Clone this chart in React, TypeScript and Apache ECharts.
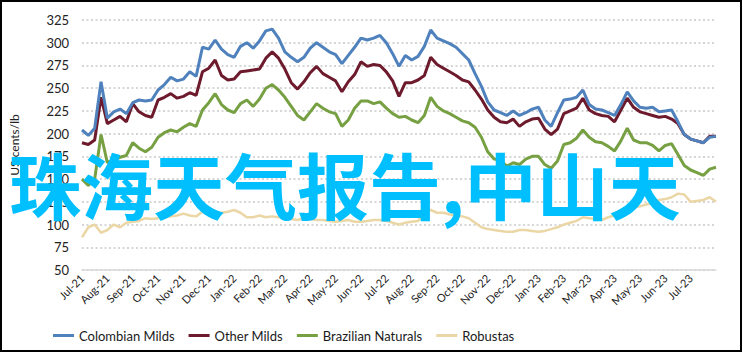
import React, { useEffect, useRef } from "react";
import * as echarts from "echarts";

const monthLabels = [
  "Jul-21", "Aug-21", "Sep-21", "Oct-21", "Nov-21", "Dec-21", "Jan-22", "Feb-22", "Mar-22",
  "Apr-22", "May-22", "Jun-22", "Jul-22", "Aug-22", "Sep-22", "Oct-22", "Nov-22", "Dec-22",
  "Jan-23", "Feb-23", "Mar-23", "Apr-23", "May-23", "Jun-23", "Jul-23", "Aug-23",
];

const yTicks = [50, 75, 100, 125, 150, 175, 200, 225, 250, 275, 300, 325];

const colombianMilds = [
  204, 198, 206, 257, 217, 224, 227, 222, 234, 237, 236, 237, 248, 254, 262, 258, 260, 268, 263, 295,
  293, 303, 293, 287, 284, 296, 300, 294, 302, 313, 315, 305, 290, 284, 279, 284, 294, 300, 295, 290,
  287, 277, 286, 295, 305, 303, 305, 308, 300, 288, 274, 286, 281, 285, 296, 314, 305, 302, 299, 295,
  288, 281, 266, 252, 235, 226, 223, 220, 225, 220, 223, 227, 229, 215, 208, 223, 237, 238, 240, 248,
  232, 227, 226, 223, 220, 232, 246, 236, 229, 228, 229, 224, 225, 226, 213, 199, 194, 192, 190, 196,
  197,
];

const otherMilds = [
  190, 188, 193, 240, 211, 215, 219, 213, 233, 224, 220, 218, 237, 240, 244, 239, 241, 245, 242, 268,
  272, 281, 264, 259, 260, 268, 269, 270, 271, 283, 290, 283, 271, 256, 249, 257, 267, 274, 266, 262,
  258, 246, 257, 265, 279, 274, 276, 275, 268, 258, 241, 256, 256, 259, 264, 284, 276, 272, 268, 264,
  259, 257, 248, 238, 226, 218, 213, 212, 216, 208, 213, 216, 217, 205, 199, 205, 222, 225, 228, 239,
  226, 222, 220, 219, 213, 226, 239, 229, 224, 222, 220, 218, 219, 216, 211, 199, 194, 192, 190, 197,
  197,
];

const brazilianNaturals = [
  150, 143, 150, 199, 168, 171, 174, 176, 190, 184, 180, 185, 196, 201, 204, 202, 207, 211, 208, 226,
  234, 244, 232, 226, 223, 233, 237, 230, 238, 250, 254, 248, 240, 230, 220, 215, 224, 233, 228, 224,
  222, 208, 215, 228, 236, 236, 233, 235, 228, 222, 218, 219, 215, 212, 220, 240, 230, 225, 222, 218,
  214, 212, 207, 196, 180, 172, 171, 164, 168, 166, 172, 175, 175, 166, 162, 170, 188, 190, 195, 204,
  196, 191, 190, 186, 181, 192, 206, 193, 190, 190, 187, 181, 187, 189, 177, 165, 160, 157, 154, 161,
  163,
];

const robustas = [
  86, 97, 100, 91, 94, 100, 97, 102, 103, 104, 107, 106, 107, 108, 109, 110, 112, 110, 109, 114,
  112, 112, 113, 114, 116, 113, 108, 108, 110, 108, 109, 108, 108, 106, 105, 107, 106, 105, 105, 104,
  103, 104, 105, 103, 103, 104, 105, 105, 104, 102, 100, 102, 103, 104, 113, 116, 113, 113, 111, 110,
  109, 107, 102, 97, 95, 94, 93, 92, 92, 94, 94, 93, 92, 93, 95, 97, 100, 102, 104, 108,
  107, 106, 105, 108, 110, 114, 118, 119, 120, 122, 124, 127, 128, 130, 134, 133, 125, 126, 127, 130,
  125,
];

const seriesNames = ["Colombian Milds", "Other Milds", "Brazilian Naturals", "Robustas"];
const overlayText = "珠海天气报告,中山天";

// 4 points per month; category keys are unique, label shows month at k = 0
const categories = colombianMilds.map((_, i) => {
  const m = monthLabels[Math.floor(i / 4)];
  const k = i % 4;
  return k === 0 ? m : `${m}#${k}`;
});

const FONT = "'Liberation Sans Narrow', 'Arial Narrow', Lato, sans-serif";

export default function App() {
  const ref = useRef<HTMLDivElement>(null);

  useEffect(() => {
    document.body.style.margin = "0";
    if (!ref.current) return;
    const chart = echarts.init(ref.current, null, { renderer: "svg" });
    const colors = ["#4f81bd", "#6d1a2c", "#76a042", "#ebd6a6"];
    const widths = [3, 3, 3, 2.5];
    const dataSets = [colombianMilds, otherMilds, brazilianNaturals, robustas];
    chart.setOption({
      animation: false,
      color: colors,
      grid: { left: 79, right: 27, top: 20, bottom: 82, containLabel: false },
      legend: {
        left: 48,
        top: 324,
        icon: "rect",
        itemWidth: 21,
        itemHeight: 3,
        itemGap: 14,
        textStyle: { fontFamily: FONT, fontSize: 13, color: "#1a1a1a" },
        data: seriesNames,
      },
      xAxis: {
        type: "category",
        data: categories,
        boundaryGap: false,
        axisLine: { show: true, lineStyle: { color: "#d9d9d9", width: 1.5 } },
        axisTick: { show: false },
        splitLine: { show: false },
        axisLabel: {
          rotate: 45,
          interval: (idx: number) => idx % 4 === 0 && idx <= 96,
          formatter: (v: string) => v.split("#")[0],
          fontFamily: FONT,
          fontSize: 11,
          color: "#222",
          margin: 6,
        },
      },
      yAxis: {
        type: "value",
        min: 50,
        max: 325,
        interval: 25,
        name: "US cents/lb",
        nameLocation: "middle",
        nameRotate: 90,
        nameGap: 62,
        nameTextStyle: { fontFamily: FONT, fontSize: 12, color: "#222" },
        axisLine: { show: false },
        axisTick: { show: false },
        axisLabel: {
          fontFamily: FONT,
          fontSize: 13,
          color: "#222",
          margin: 13,
          formatter: (v: number) => (yTicks.includes(v) ? String(v) : ""),
        },
        splitLine: {
          show: true,
          lineStyle: { color: "#c9c9c9", width: 1.5, type: [2, 2.5] },
        },
      },
      series: seriesNames.map((name, s) => ({
        name,
        type: "line",
        data: dataSets[s],
        showSymbol: false,
        symbol: "none",
        lineStyle: { width: widths[s], color: colors[s] },
        z: 10 - s,
      })),
      graphic: [
        {
          type: "text",
          left: 9,
          top: 146,
          z: 100,
          style: {
            text: overlayText,
            font: "bold 72px 'Noto Sans CJK SC'",
            fill: "#00bfff",
          },
        },
      ],
    });
    return () => chart.dispose();
  }, []);

  return (
    <div style={{ position: "relative", width: 743, height: 352 }}>
      <div ref={ref} style={{ position: "absolute", left: 0, top: 0, width: 743, height: 352 }} />
      <div
        style={{
          position: "absolute",
          left: 0,
          top: 0,
          width: 742,
          height: 352,
          boxSizing: "border-box",
          border: "2px solid #000",
          pointerEvents: "none",
        }}
      />
    </div>
  );
}
